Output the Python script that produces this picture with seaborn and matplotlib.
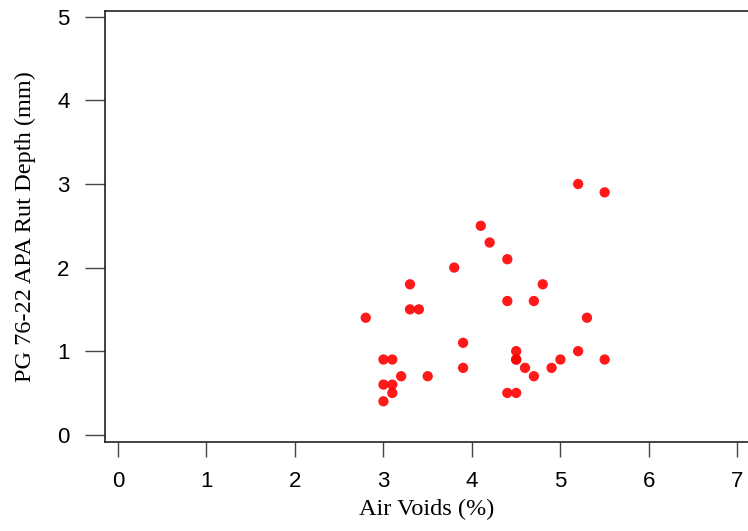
import matplotlib
matplotlib.use("Agg")
import matplotlib.pyplot as plt
import seaborn as sns
import pandas as pd

air_voids = [5.2, 5.5, 4.1, 4.2, 4.4, 3.8, 3.3, 4.8, 3.3, 3.4, 4.4, 4.7, 2.8, 5.3,
             3.9, 4.5, 5.2, 4.5, 4.5, 3.0, 3.1, 5.0, 5.5, 3.9, 4.6, 4.9, 3.2, 3.5,
             4.7, 3.0, 3.1, 3.1, 4.4, 4.5, 3.0]
rut_depth = [3.0, 2.9, 2.5, 2.3, 2.1, 2.0, 1.8, 1.8, 1.5, 1.5, 1.6, 1.6, 1.4, 1.4,
             1.1, 1.0, 1.0, 0.9, 0.9, 0.9, 0.9, 0.9, 0.9, 0.8, 0.8, 0.8, 0.7, 0.7,
             0.7, 0.6, 0.6, 0.5, 0.5, 0.5, 0.4]
x_ticks = [0, 1, 2, 3, 4, 5, 6, 7]
y_ticks = [0, 1, 2, 3, 4, 5]

df = pd.DataFrame({"Air Voids (%)": air_voids, "PG 76-22 APA Rut Depth (mm)": rut_depth})

sns.set_style("ticks")
plt.rcParams['font.family'] = ['Liberation Sans', 'DejaVu Sans']
plt.rcParams['text.color'] = 'black'
plt.rcParams['axes.labelcolor'] = 'black'
plt.rcParams['xtick.labelcolor'] = 'black'
plt.rcParams['ytick.labelcolor'] = 'black'

fig = plt.figure(figsize=(7.48, 5.31), dpi=100)
ax = fig.add_axes([105/748, 1 - 442/531, 643/748, 431/531])

sns.scatterplot(data=df, x="Air Voids (%)", y="PG 76-22 APA Rut Depth (mm)",
                color="#ff0000", s=55, edgecolor="none", alpha=0.9, ax=ax)

ax.set_xlim(-0.147, 7.12)
ax.set_ylim(-0.087, 5.07)
ax.set_xticks(x_ticks)
ax.set_yticks(y_ticks)
ax.tick_params(axis='x', length=10.8, width=1, pad=10, labelsize=16, color='#444444', labelcolor='black')
ax.tick_params(axis='y', length=14.4, width=1, pad=11, labelsize=16, color='#444444', labelcolor='black')

for s in ['left', 'bottom', 'top']:
    ax.spines[s].set_linewidth(1.2)
    ax.spines[s].set_color('#222222')
ax.spines['right'].set_visible(False)

ax.set_xlabel("Air Voids (%)", family=['Liberation Serif'], fontsize=17.5, labelpad=5, color='black')
ax.set_ylabel("PG 76-22 APA Rut Depth (mm)", family=['Liberation Serif'], fontsize=17.5, labelpad=15, color='black')

fig.savefig("out.png", dpi=100)
